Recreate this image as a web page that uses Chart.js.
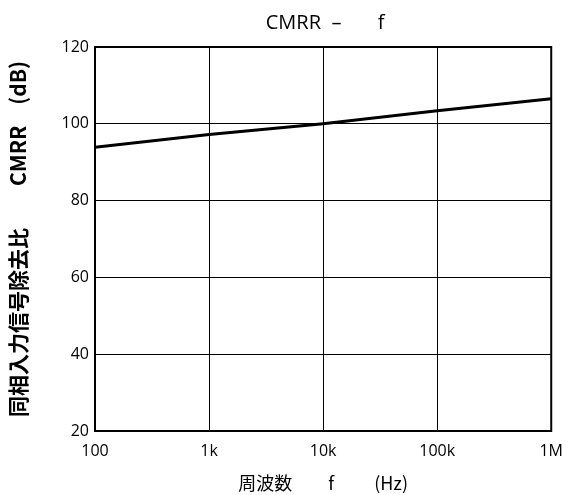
<!DOCTYPE html>
<html>
<head>
<meta charset="utf-8">
<script src="https://cdn.jsdelivr.net/npm/chart.js@4"></script>
<style>
  html, body { margin: 0; padding: 0; background: #fff; }
  #wrap { width: 574px; height: 495px; }
</style>
</head>
<body>
<div id="wrap"><canvas id="myChart" width="574" height="495"></canvas></div>
<script>
'use strict'

// frequency points (Hz) and CMRR (dB)
const freqs = [100, 1000, 10000, 100000, 1000000];
const cmrr = [93.9, 97.2, 100, 103.4, 106.5];

const xTicks = [100, 1000, 10000, 100000, 1000000];
const xTickLabels = ['100', '1k', '10k', '100k', '1M'];
const yTicks = [20, 40, 60, 80, 100, 120];

const chartTitle = 'CMRR  –       f';
const fontLatin = '"Open Sans", "Noto Sans CJK JP", sans-serif';
const fontCJK = '"Noto Sans CJK JP", sans-serif';

let points = [];
for (let i = 0; i < freqs.length; i++) {
  points.push({ x: freqs[i], y: cmrr[i] });
}

// thick frame around the plot area, title centred over it
const frame = {
  id: 'frame',
  afterDraw(chart) {
    const a = chart.chartArea;
    const ctx = chart.ctx;
    ctx.save();
    ctx.strokeStyle = '#000';
    ctx.lineWidth = 2;
    ctx.strokeRect(a.left, a.top, a.right - a.left, a.bottom - a.top);
    ctx.fillStyle = '#000';
    ctx.font = '20px ' + fontLatin;
    ctx.textAlign = 'center';
    ctx.textBaseline = 'middle';
    ctx.fillText(chartTitle, (a.left + a.right) / 2 + 2, 23);
    ctx.restore();
  }
};

const config = {
  type: 'line',
  data: {
    datasets: [{
      label: 'CMRR',
      data: points,
      borderColor: '#000',
      borderWidth: 3,
      pointRadius: 0,
      tension: 0,
      fill: false
    }]
  },
  options: {
    responsive: false,
    animation: false,
    layout: { padding: { left: 0, right: 16, top: 47, bottom: 0 } },
    plugins: {
      legend: { display: false },
      tooltip: { enabled: false },
      title: { display: false }
    },
    scales: {
      x: {
        type: 'logarithmic',
        min: 100,
        max: 1000000,
        afterBuildTicks(scale) {
          scale.ticks = xTicks.map(v => ({ value: v }));
        },
        afterFit(scale) { scale.height = 64; },
        grid: { color: '#000', lineWidth: 1, drawTicks: false },
        border: { display: false },
        ticks: {
          color: '#000',
          padding: 11,
          maxRotation: 0,
          autoSkip: false,
          font: { family: fontLatin, size: 16 },
          callback(value) {
            const i = xTicks.indexOf(value);
            return i >= 0 ? xTickLabels[i] : '';
          }
        },
        title: {
          display: true,
          text: '周波数　　f　　 (Hz)',
          color: '#000',
          font: { family: fontCJK, size: 18 },
          padding: { top: 0, bottom: 1 }
        }
      },
      y: {
        min: 20,
        max: 120,
        afterBuildTicks(scale) {
          scale.ticks = yTicks.map(v => ({ value: v }));
        },
        afterFit(scale) { scale.width = 95; },
        grid: { color: '#000', lineWidth: 1, drawTicks: false },
        border: { display: false },
        ticks: {
          color: '#000',
          padding: 6,
          font: { family: fontLatin, size: 16 }
        },
        title: {
          display: true,
          text: '同相入力信号除去比　　CMRR　(dB)',
          color: '#000',
          font: { family: fontCJK, size: 21, weight: 'bold' },
          padding: { top: 5, bottom: 0 }
        }
      }
    }
  },
  plugins: [frame]
};

let myChart = new Chart(document.getElementById('myChart'), config);
</script>
</body>
</html>
